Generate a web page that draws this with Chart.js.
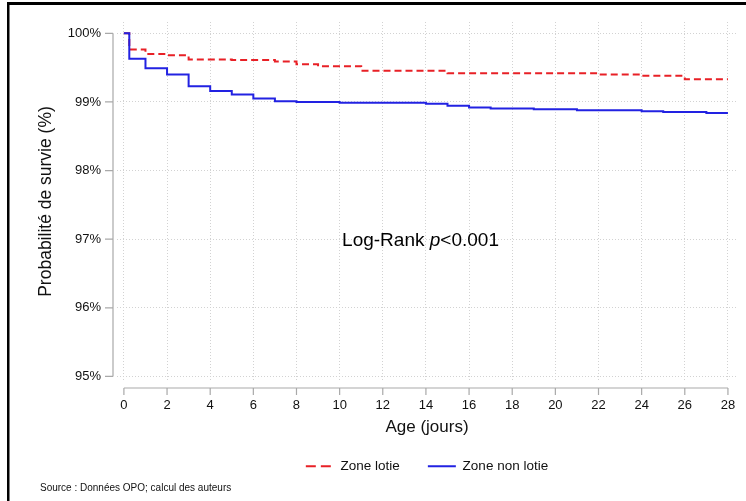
<!DOCTYPE html>
<html>
<head>
<meta charset="utf-8">
<script src="https://cdn.jsdelivr.net/npm/chart.js@4.4.1/dist/chart.umd.min.js"></script>
<style>
  html, body { margin: 0; padding: 0; background: #fff; }
</style>
</head>
<body>
<canvas id="km" width="746" height="501"></canvas>
<script>
const seriesNames = ['Zone lotie', 'Zone non lotie'];
const joursLotie = [0, 0.25, 1, 2, 3, 5, 7, 8, 9, 11, 15, 22, 24, 26, 28];
const survieLotie = [100, 99.765, 99.70, 99.68, 99.62, 99.61, 99.59, 99.55, 99.52, 99.455, 99.42, 99.40, 99.38, 99.33, 99.33];
const joursNonLotie = [0, 0.25, 1, 2, 3, 4, 5, 6, 7, 8, 10, 14, 15, 16, 17, 19, 21, 24, 25, 27, 28];
const survieNonLotie = [100, 99.63, 99.49, 99.40, 99.23, 99.16, 99.11, 99.05, 99.01, 99.00, 98.99, 98.975, 98.945, 98.92, 98.905, 98.895, 98.88, 98.865, 98.855, 98.84, 98.84];
const xTicks = [0, 2, 4, 6, 8, 10, 12, 14, 16, 18, 20, 22, 24, 26, 28];
const yTicks = [95, 96, 97, 98, 99, 100];

const FONT = '"Liberation Sans", Arial, sans-serif';

function toPoints(xs, ys) {
    return xs.map((v, i) => ({ x: v, y: ys[i] }));
}

// cadre, axes décalés façon Stata, annotation et source
const decor = {
    id: 'decor',
    beforeDraw(chart) {
        const ctx = chart.ctx;
        ctx.save();
        ctx.fillStyle = '#fff';
        ctx.fillRect(0, 0, chart.width, chart.height);
        ctx.fillStyle = '#000';
        ctx.fillRect(7, 2, chart.width - 7, 3);
        ctx.fillRect(7, 2, 2.5, chart.height);
        ctx.restore();
    },
    afterDraw(chart) {
        const { ctx, chartArea } = chart;
        const x = chart.scales.x;
        const y = chart.scales.y;
        ctx.save();
        ctx.strokeStyle = '#a9a9a9';
        ctx.lineWidth = 1.2;

        // axe vertical
        const ax = chartArea.left - 4;
        ctx.beginPath();
        ctx.moveTo(ax, y.getPixelForValue(yTicks[yTicks.length - 1]));
        ctx.lineTo(ax, y.getPixelForValue(yTicks[0]));
        yTicks.forEach(v => {
            const py = y.getPixelForValue(v);
            ctx.moveTo(ax - 8, py);
            ctx.lineTo(ax, py);
        });
        ctx.stroke();

        // axe horizontal
        const ay = chartArea.bottom + 7;
        ctx.beginPath();
        ctx.moveTo(x.getPixelForValue(xTicks[0]), ay);
        ctx.lineTo(x.getPixelForValue(xTicks[xTicks.length - 1]), ay);
        xTicks.forEach(v => {
            const px = x.getPixelForValue(v);
            ctx.moveTo(px, ay);
            ctx.lineTo(px, ay + 7);
        });
        ctx.stroke();

        // Log-Rank p<0.001
        const cx = x.getPixelForValue(13.75);
        const cy = y.getPixelForValue(96.98);
        ctx.fillStyle = '#000';
        ctx.textBaseline = 'middle';
        const parts = [
            ['Log-Rank ', 'normal 19px ' + FONT],
            ['p', 'italic 19px ' + FONT],
            ['<0.001', 'normal 19px ' + FONT]
        ];
        let total = 0;
        parts.forEach(p => { ctx.font = p[1]; total += ctx.measureText(p[0]).width; });
        let tx = cx - total / 2;
        ctx.textAlign = 'left';
        parts.forEach(p => {
            ctx.font = p[1];
            ctx.fillText(p[0], tx, cy);
            tx += ctx.measureText(p[0]).width;
        });

        // source
        ctx.font = '10px ' + FONT;
        ctx.fillStyle = '#111';
        ctx.fillText('Source : Données OPO; calcul des auteurs', 40, 488);
        ctx.restore();
    }
};

const ctx = document.getElementById('km').getContext('2d');
new Chart(ctx, {
    type: 'line',
    data: {
        datasets: [{
            label: seriesNames[0],
            data: toPoints(joursLotie, survieLotie),
            borderColor: 'rgb(232, 32, 38)',
            backgroundColor: 'rgb(232, 32, 38)',
            borderWidth: 2,
            borderDash: [7, 4],
            stepped: true,
            pointRadius: 0,
            fill: false,
            order: 1
        }, {
            label: seriesNames[1],
            data: toPoints(joursNonLotie, survieNonLotie),
            borderColor: 'rgb(34, 34, 226)',
            backgroundColor: 'rgb(34, 34, 226)',
            borderWidth: 2,
            stepped: true,
            pointRadius: 0,
            fill: false,
            order: 0
        }]
    },
    options: {
        responsive: false,
        animation: false,
        layout: {
            padding: { top: 22, right: 9, bottom: 18, left: 0 }
        },
        plugins: {
            legend: {
                position: 'bottom',
                fullSize: false,
                labels: {
                    usePointStyle: true,
                    pointStyle: 'line',
                    pointStyleWidth: 28,
                    padding: 28,
                    color: '#111',
                    font: { family: FONT, size: 13.5 },
                    sort: (a, b) => a.datasetIndex - b.datasetIndex,
                    generateLabels: chart => {
                        const items = Chart.defaults.plugins.legend.labels.generateLabels(chart);
                        items.forEach(it => {
                            const ds = chart.data.datasets[it.datasetIndex];
                            it.lineDash = ds.borderDash ? [10, 5] : [];
                            it.lineWidth = 2;
                        });
                        return items;
                    }
                }
            },
            tooltip: { enabled: false }
        },
        scales: {
            x: {
                type: 'linear',
                min: -0.32,
                max: 28.42,
                afterBuildTicks: axis => { axis.ticks = xTicks.map(v => ({ value: v })); },
                afterFit: axis => {
                    axis.height = 50.5;
                    axis.paddingLeft = 0;
                    axis.paddingRight = 0;
                },
                grid: { color: '#d2d2d2', lineWidth: 1, drawTicks: false },
                border: { display: false, dash: [1, 2] },
                ticks: {
                    padding: 17,
                    maxRotation: 0,
                    autoSkip: false,
                    color: '#111',
                    font: { family: FONT, size: 13 }
                },
                title: {
                    display: true,
                    text: 'Age (jours)',
                    color: '#111',
                    font: { family: FONT, size: 17 },
                    padding: { top: 0, bottom: -5.7 }
                }
            },
            y: {
                min: 94.934,
                max: 100.165,
                afterBuildTicks: axis => { axis.ticks = yTicks.map(v => ({ value: v })); },
                afterFit: axis => {
                    axis.width = 117;
                    axis.paddingTop = 0;
                    axis.paddingBottom = 0;
                },
                grid: { color: '#d2d2d2', lineWidth: 1, drawTicks: false },
                border: { display: false, dash: [1, 2] },
                ticks: {
                    padding: 16,
                    color: '#111',
                    font: { family: FONT, size: 13 },
                    callback: v => v + '%'
                },
                title: {
                    display: true,
                    text: 'Probabilité de survie (%)',
                    color: '#111',
                    font: { family: FONT, size: 17.5 },
                    padding: { top: 36, bottom: 0 }
                }
            }
        }
    },
    plugins: [decor]
});
</script>
</body>
</html>
